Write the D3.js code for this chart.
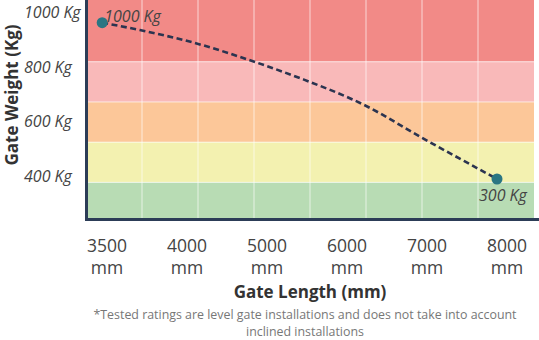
<!DOCTYPE html>
<html><head><meta charset="utf-8">
<script src="https://cdn.jsdelivr.net/npm/d3@7"></script>
<style>
html,body{margin:0;padding:0;background:#fff;}
svg{display:block;font-family:"Open Sans",sans-serif;}
</style></head><body>
<svg id="chart" width="539" height="340"></svg>
<script>
// ---- data ----
const xCategories = ["3500","4000","5000","6000","7000","8000"];
const xUnit = "mm";
const yTickLabels = ["1000 Kg","800 Kg","600 Kg","400 Kg"];
const bandEdgesKg = [825, 645, 465, 285];
const bandColors = ["#f28a87","#f9b9b9","#fcc799","#f3f1b0","#b8dcb4"];
const curveLengths = [3470, 3705, 4140, 4850, 5410, 6240, 6940, 7625, 7875];
const curveWeights = [1000, 967, 905, 824, 752, 627, 484, 349, 300];
const markerIndex = [0, 8];
const markerLabels = ["1000 Kg", "300 Kg"];
const xTitle = "Gate Length (mm)";
const yTitle = "Gate Weight (Kg)";
const footnote = ["*Tested ratings are level gate installations and does not take into account", "inclined installations"];

// ---- layout ----
const svg = d3.select("#chart");
const plot = {left: 86, right: 534, top: 0, bottom: 218};
const axisColor = "#2c3d57";
const textColor = "#444";

const xCat = d3.scalePoint().domain(xCategories).range([107, 507]);
const x = d3.scaleLinear().domain(xCategories.map(Number)).range(xCategories.map(c => xCat(c)));
const y = d3.scaleLinear().domain([300, 1000]).range([179, 22.7]);
const yLab = d3.scalePoint().domain(yTickLabels).range([18, 182]);
const xGrid = d3.scaleLinear().domain([0, 8]).range([plot.left, plot.right]);

// bands
const edges = [plot.top, ...bandEdgesKg.map(k => y(k)), plot.bottom];
svg.append("g").selectAll("rect").data(bandColors).join("rect")
  .attr("x", plot.left).attr("width", plot.right - plot.left)
  .attr("y", (d, i) => edges[i]).attr("height", (d, i) => edges[i + 1] - edges[i])
  .attr("fill", d => d);

// grid
const grid = svg.append("g").attr("stroke", "#fff").attr("stroke-opacity", 0.65).attr("stroke-width", 1);
grid.selectAll("line.v").data(d3.range(1, 8)).join("line").attr("class", "v")
  .attr("x1", d => xGrid(d)).attr("x2", d => xGrid(d)).attr("y1", plot.top).attr("y2", plot.bottom);
grid.selectAll("line.h").data(bandEdgesKg).join("line").attr("class", "h")
  .attr("x1", plot.left).attr("x2", plot.right).attr("y1", d => y(d)).attr("y2", d => y(d));

// axis lines
svg.append("line").attr("x1", plot.left + 0.5).attr("x2", plot.left + 0.5).attr("y1", 0).attr("y2", plot.bottom + 3)
  .attr("stroke", axisColor).attr("stroke-width", 3);
svg.append("line").attr("x1", plot.left - 1).attr("x2", 539).attr("y1", plot.bottom + 1.5).attr("y2", plot.bottom + 1.5)
  .attr("stroke", axisColor).attr("stroke-width", 3);

// curve
const pts = curveLengths.map((l, i) => [x(l), y(curveWeights[i])]);
svg.append("path").datum(pts)
  .attr("d", d3.line().curve(d3.curveMonotoneX))
  .attr("fill", "none").attr("stroke", "#2b3450").attr("stroke-width", 2.6)
  .attr("stroke-dasharray", "6,3.5");

// markers
svg.append("g").selectAll("circle").data(markerIndex).join("circle")
  .attr("cx", i => x(curveLengths[i])).attr("cy", i => y(curveWeights[i])).attr("r", 5.5)
  .attr("fill", "#2a7683");

// marker labels
svg.append("text").attr("x", x(curveLengths[markerIndex[0]]) + 2).attr("y", y(curveWeights[markerIndex[0]]) - 1)
  .attr("font-size", 16).attr("font-style", "italic").attr("fill", textColor).text(markerLabels[0]);
svg.append("text").attr("x", x(curveLengths[markerIndex[1]]) - 18).attr("y", y(curveWeights[markerIndex[1]]) + 22)
  .attr("font-size", 16).attr("font-style", "italic").attr("fill", textColor).text(markerLabels[1]);

// y tick labels
svg.append("g").selectAll("text").data(yTickLabels).join("text")
  .attr("x", 24).attr("y", d => yLab(d))
  .attr("font-size", 16).attr("font-style", "italic").attr("fill", textColor).text(d => d);

// x tick labels
const xt = svg.append("g").selectAll("text").data(xCategories).join("text")
  .attr("text-anchor", "middle").attr("font-size", 17.5).attr("fill", textColor);
xt.append("tspan").attr("x", d => xCat(d)).attr("y", 252).text(d => d);
xt.append("tspan").attr("x", d => xCat(d)).attr("y", 274).text(xUnit);

// titles
svg.append("text").attr("x", 310).attr("y", 298).attr("text-anchor", "middle")
  .attr("font-size", 17).attr("font-weight", 700).attr("fill", "#333").text(xTitle);
svg.append("text").attr("transform", "translate(18,95) rotate(-90)").attr("text-anchor", "middle")
  .attr("font-size", 17).attr("font-weight", 700).attr("fill", "#333").text(yTitle);

// footnote
svg.append("g").selectAll("text").data(footnote).join("text")
  .attr("x", 305).attr("y", (d, i) => 318.5 + i * 17).attr("text-anchor", "middle")
  .attr("font-size", 12.4).attr("fill", "#777").text(d => d);
</script>
</body></html>
